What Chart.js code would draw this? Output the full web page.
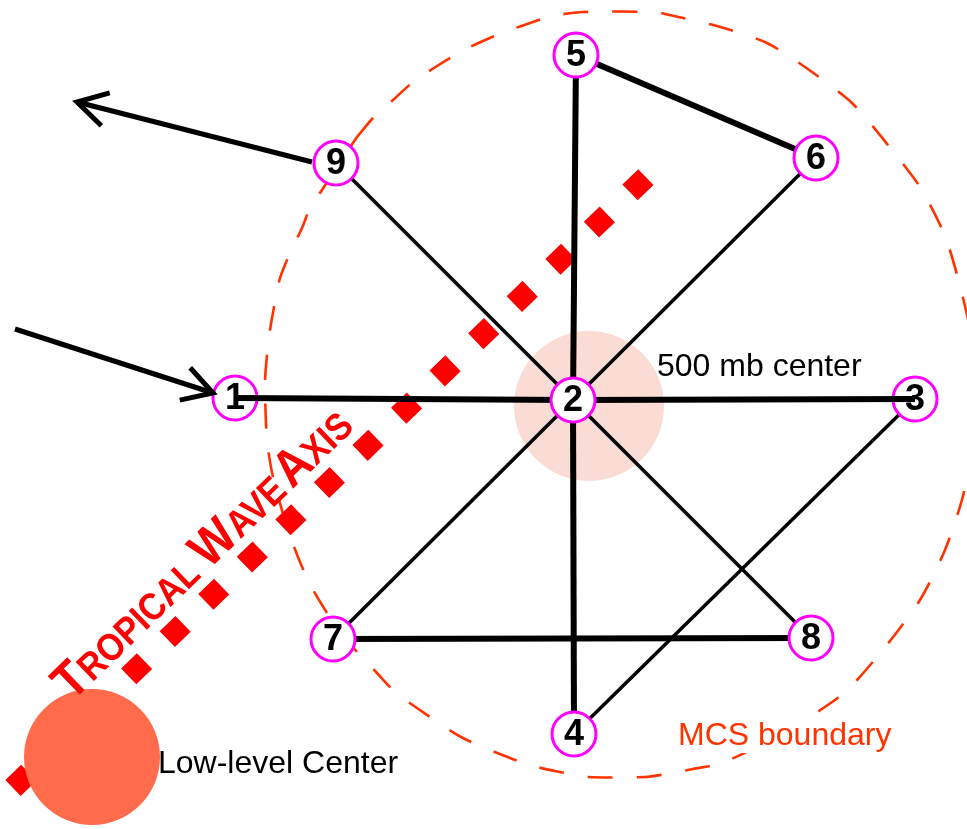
<!DOCTYPE html>
<html>
<head>
<meta charset="utf-8">
<title>MCS sounding network</title>
<script src="https://cdn.jsdelivr.net/npm/chart.js@4.4.1/dist/chart.umd.min.js"></script>
<style>
  html, body { margin: 0; padding: 0; background: #fff; }
  #wrap { width: 967px; height: 829px; position: relative; }
</style>
</head>
<body>
<div id="wrap"><canvas id="diagram"></canvas></div>
<script>
// sounding stations, plot units (1 unit = 1 px, y grows downward)
var stationIds = ['1', '2', '3', '4', '5', '6', '7', '8', '9'];
var stationX = [235, 573, 915, 574, 576, 816, 333, 811, 336];
var stationY = [398, 400, 399, 734, 55, 158, 639, 638, 163];

// legs between stations
var eastWestLeg = ['1', '2', '3'];
var heavyLegs = [['5', '2'], ['2', '4'], ['5', '6'], ['7', '8']];
var lightLegs = [['9', '2'], ['2', '6'], ['2', '7'], ['2', '8'], ['3', '4']];

// flow arrows (tail -> tip)
var inflowX = [15, 213];
var inflowY = [329, 393];
var outflowX = [312, 77];
var outflowY = [162, 102];

// tropical wave axis
var waveAxisX = [13, 647];
var waveAxisY = [788, 176];
var waveAxisWords = ['TROPICAL', 'WAVE', 'AXIS'];
var waveTextX = [72];
var waveTextY = [702];

// centres
var midCenterX = [589];
var midCenterY = [406];
var lowCenterX = [92];
var lowCenterY = [757];

// MCS boundary outline
var boundaryX = [357, 373, 393, 413, 437, 460, 483, 507, 533, 552, 583, 657, 665, 717, 767, 812, 853, 888, 920, 945, 960, 972, 975, 971, 963, 945, 920, 890, 857, 835, 780, 722, 693, 667, 645, 587, 560, 537, 510, 461, 417, 395, 377, 358, 340, 327, 312, 300, 287, 273, 267, 265, 267, 270, 275, 280, 290, 302, 310, 322, 340, 357];
var boundaryY = [137, 118, 100, 82, 66, 52, 41, 31, 22, 16, 12, 12, 14, 26, 43, 72, 104, 145, 187, 236, 286, 340, 395, 450, 496, 550, 600, 641, 680, 700, 735, 763, 769, 774, 777, 777, 772, 767, 758, 737, 708, 692, 673, 653, 633, 613, 588, 562, 527, 477, 440, 383, 355, 330, 302, 278, 253, 228, 208, 190, 162, 137];

// text labels
var labelText = ['500 mb center', 'Low-level Center', 'MCS boundary'];
var labelX = [657, 158, 678];
var labelY = [376, 773, 745];

var FONT = '"Liberation Sans", Arial, Helvetica, sans-serif';
var MCS_COLOR = '#FF3300';

function pts(xs, ys) {
  return xs.map(function (x, i) { return { x: x, y: ys[i] }; });
}
function station(id) {
  var i = stationIds.indexOf(id);
  return { x: stationX[i], y: stationY[i] };
}
function legSet(leg, width, order) {
  return {
    data: leg.map(station),
    showLine: true,
    borderColor: '#000',
    borderWidth: width,
    pointRadius: 0,
    borderCapStyle: 'butt',
    tension: 0,
    order: order
  };
}
function nodeSet(ids, order) {
  return {
    data: ids.map(station),
    ids: ids,
    pointRadius: 22,
    pointBorderWidth: 3,
    pointBorderColor: '#FF00FF',
    pointBackgroundColor: '#fff',
    order: order
  };
}
function arrowSet(xs, ys) {
  return {
    data: pts(xs, ys),
    showLine: true,
    arrow: true,
    borderColor: '#000',
    borderWidth: 5,
    pointRadius: 0,
    tension: 0,
    order: 12
  };
}

var underIds = [eastWestLeg[0], eastWestLeg[eastWestLeg.length - 1]];
var overIds = stationIds.filter(function (id) { return underIds.indexOf(id) < 0; });

var datasets = [
  { data: pts(midCenterX, midCenterY), pointRadius: 75, pointBorderWidth: 0, pointBackgroundColor: '#FADCD5', order: 20 },
  { data: pts(boundaryX, boundaryY), showLine: true, borderColor: MCS_COLOR, borderWidth: 2.6,
    borderDash: [25, 24], pointRadius: 0, tension: 0.25, order: 18 },
  { data: pts(waveAxisX, waveAxisY), showLine: true, borderColor: '#FF0000', borderWidth: 22,
    borderDash: [22, 31.6], borderCapStyle: 'butt', pointRadius: 0, order: 16 },
  { data: pts(lowCenterX, lowCenterY), pointRadius: 68, pointBorderWidth: 0, pointBackgroundColor: '#FF6B4B', order: 14 },
  arrowSet(inflowX, inflowY),
  arrowSet(outflowX, outflowY),
  nodeSet(underIds, 10),
  legSet(eastWestLeg, 6, 8),
  nodeSet(overIds, 6)
];
heavyLegs.forEach(function (l) { datasets.push(legSet(l, 6, 12)); });
lightLegs.forEach(function (l) { datasets.push(legSet(l, 3.5, 12)); });

// open arrow heads at the end of the flow arrows
var arrowHeads = {
  id: 'arrowHeads',
  afterDatasetsDraw: function (chart) {
    var ctx = chart.ctx;
    chart.data.datasets.forEach(function (ds, i) {
      if (!ds.arrow) return;
      var el = chart.getDatasetMeta(i).data;
      var a = el[el.length - 2], b = el[el.length - 1];
      var back = Math.atan2(a.y - b.y, a.x - b.x);
      var spread = 30 * Math.PI / 180, len = 34;
      ctx.save();
      ctx.strokeStyle = '#000';
      ctx.lineWidth = 5;
      ctx.lineJoin = 'miter';
      ctx.beginPath();
      ctx.moveTo(b.x + len * Math.cos(back + spread), b.y + len * Math.sin(back + spread));
      ctx.lineTo(b.x, b.y);
      ctx.lineTo(b.x + len * Math.cos(back - spread), b.y + len * Math.sin(back - spread));
      ctx.stroke();
      ctx.restore();
    });
  }
};

// station numbers inside the circles
var stationLabels = {
  id: 'stationLabels',
  afterDatasetsDraw: function (chart) {
    var ctx = chart.ctx;
    ctx.save();
    ctx.fillStyle = '#000';
    ctx.font = 'bold 36px ' + FONT;
    ctx.textAlign = 'center';
    ctx.textBaseline = 'middle';
    chart.data.datasets.forEach(function (ds, i) {
      if (!ds.ids) return;
      chart.getDatasetMeta(i).data.forEach(function (p, j) {
        ctx.fillText(ds.ids[j], p.x, p.y + 1);
      });
    });
    ctx.restore();
  }
};

// plain labels + small-caps axis title
var textLabels = {
  id: 'textLabels',
  afterDatasetsDraw: function (chart) {
    var ctx = chart.ctx;
    var xs = chart.scales.x, ys = chart.scales.y;
    ctx.save();
    ctx.font = '32px ' + FONT;
    ctx.textBaseline = 'alphabetic';
    labelText.forEach(function (t, i) {
      var px = xs.getPixelForValue(labelX[i]);
      var py = ys.getPixelForValue(labelY[i]);
      if (t === 'MCS boundary') {
        var w = ctx.measureText(t).width;
        ctx.fillStyle = '#fff';
        ctx.fillRect(px - 4, py - 28, w + 8, 36);
        ctx.fillStyle = MCS_COLOR;
      } else {
        ctx.fillStyle = '#000';
      }
      ctx.fillText(t, px, py);
    });

    // TROPICAL WAVE AXIS, along the axis line
    var x0 = xs.getPixelForValue(waveAxisX[0]), y0 = ys.getPixelForValue(waveAxisY[0]);
    var x1 = xs.getPixelForValue(waveAxisX[1]), y1 = ys.getPixelForValue(waveAxisY[1]);
    ctx.translate(xs.getPixelForValue(waveTextX[0]), ys.getPixelForValue(waveTextY[0]));
    ctx.rotate(Math.atan2(y1 - y0, x1 - x0));
    ctx.scale(1, 1.12);
    ctx.fillStyle = '#FF0000';
    var big = 'bold 46px ' + FONT, small = 'bold 34px ' + FONT;
    var cx = 0;
    waveAxisWords.forEach(function (word, k) {
      ctx.font = big;
      ctx.fillText(word[0], cx, 0);
      cx += ctx.measureText(word[0]).width;
      ctx.font = small;
      ctx.fillText(word.slice(1), cx, 0);
      cx += ctx.measureText(word.slice(1)).width;
      if (k < waveAxisWords.length - 1) {
        cx += ctx.measureText(' ').width * (k === 0 ? 1 : 0.5);
      }
    });
    ctx.restore();
  }
};

new Chart(document.getElementById('diagram'), {
  type: 'scatter',
  data: { datasets: datasets },
  options: {
    responsive: true,
    maintainAspectRatio: false,
    animation: false,
    devicePixelRatio: 1,
    events: [],
    layout: { padding: 0, autoPadding: false },
    scales: {
      x: { type: 'linear', min: 0, max: 967, display: false },
      y: { type: 'linear', min: 0, max: 829, reverse: true, display: false }
    },
    plugins: { legend: { display: false }, tooltip: { enabled: false } }
  },
  plugins: [arrowHeads, stationLabels, textLabels]
});
</script>
</body>
</html>
